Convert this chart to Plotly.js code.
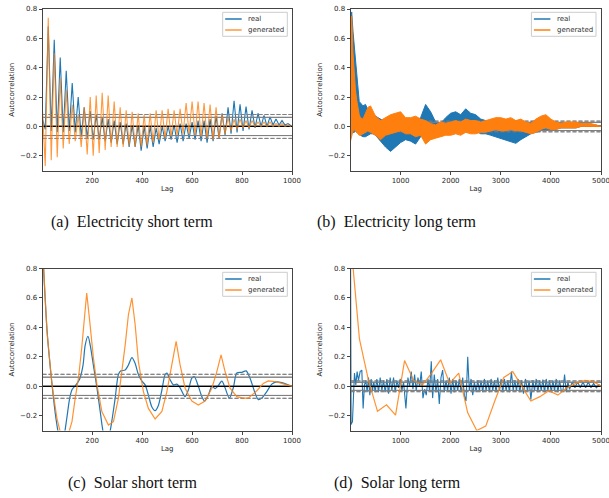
<!DOCTYPE html>
<html><head><meta charset="utf-8">
<script src="https://cdn.plot.ly/plotly-3.0.1.min.js"></script>
<style>html,body{margin:0;padding:0;background:#fff}</style>
</head><body><div id="chart" style="width:609px;height:498px"></div>
<script>
// ---------- (a) Electricity short term: daily (24-lag) oscillation, peaks at lags 24k, troughs at 24k+12 ----------
const periodA = 24;
const realStartA = 0.05;
const realPeaksA = [0.68,0.59,0.47,0.38,0.295,0.20,0.13,0.105,0.08,0.06,0.05,0.04,0.03,0.02,0.01,0.01,0.0,0.0,-0.01,0.0,0.0,0.01,0.02,0.02,0.03,0.04,0.04,0.05,0.07,0.09,0.13,0.175,0.15,0.135,0.11,0.09,0.075,0.065,0.05,0.04,0.02];
const realTroughsA = [-0.02,-0.03,-0.04,-0.04,-0.03,-0.04,-0.07,-0.08,-0.09,-0.09,-0.10,-0.11,-0.12,-0.12,-0.14,-0.14,-0.165,-0.15,-0.14,-0.12,-0.10,-0.09,-0.11,-0.10,-0.08,-0.09,-0.10,-0.11,-0.10,-0.08,-0.06,-0.05,-0.04,-0.03,-0.02,-0.01,0.0,0.0,0.01,0.01,0.01,0.005];
const genStartA = 0.11;
const genPeaksA = [0.74,0.50,0.33,0.25,0.15,0.08,0.13,0.20,0.21,0.23,0.21,0.17,0.13,0.11,0.10,0.09,0.08,0.09,0.11,0.11,0.12,0.11,0.12,0.16,0.17,0.17,0.16,0.15,0.13,0.08,0.06,0.05,0.05,0.04,0.04,0.03,0.03,0.03,0.02,0.02,0.01];
const genTroughsA = [-0.27,-0.23,-0.21,-0.15,-0.12,-0.10,-0.14,-0.19,-0.20,-0.18,-0.16,-0.14,-0.14,-0.14,-0.13,-0.14,-0.14,-0.13,-0.11,-0.09,-0.08,-0.07,-0.06,-0.05,-0.05,-0.06,-0.07,-0.08,-0.09,-0.08,-0.05,-0.03,-0.02,-0.01,-0.01,0.0,0.0,0.0,0.0,0.0,0.0,0.0];

// ---------- (b) Electricity long term: upper / lower envelope of the dense oscillation ----------
const lagsB = [1,25,50,75,100,125,150,175,200,250,300,350,400,450,500,600,700,800,900,1000,1100,1200,1300,1400,1500,1600,1700,1800,1900,2000,2100,2200,2300,2400,2500,2600,2700,2800,2900,3000,3100,3200,3300,3400,3500,3600,3700,3800,3900,4000,4100,4200,4300,4400,4500,4600,4700,4800,4900,5000];
const realHiB = [0.70,0.78,0.65,0.55,0.49,0.38,0.24,0.17,0.16,0.14,0.15,0.11,0.08,0.08,0.07,0.05,0.03,0.02,0.03,0.05,0.03,0.04,0.04,0.06,0.15,0.10,0.03,0.02,0.06,0.09,0.10,0.08,0.12,0.09,0.08,0.05,0.04,0.03,0.03,0.02,0.01,-0.01,-0.02,0.0,0.02,0.03,0.04,0.04,0.04,0.03,0.03,0.02,0.02,0.02,0.02,0.02,0.01,0.01,0.01,0.0];
const realLoB = [-0.02,-0.03,-0.04,-0.04,-0.03,-0.04,-0.04,-0.05,-0.06,-0.07,-0.07,-0.06,-0.05,-0.05,-0.06,-0.10,-0.14,-0.17,-0.14,-0.11,-0.09,-0.10,-0.12,-0.07,-0.03,-0.04,-0.05,-0.06,-0.03,-0.02,-0.02,-0.02,-0.01,-0.02,-0.03,-0.05,-0.05,-0.06,-0.07,-0.08,-0.09,-0.10,-0.115,-0.09,-0.07,-0.05,-0.04,-0.03,-0.02,-0.02,-0.02,-0.01,-0.01,-0.01,-0.01,0.0,0.0,0.0,0.0,0.0];
const genHiB = [0.60,0.75,0.50,0.35,0.25,0.18,0.12,0.08,0.06,0.05,0.09,0.13,0.14,0.10,0.07,0.04,0.06,0.08,0.09,0.10,0.06,0.06,0.07,0.05,0.04,0.02,0.01,0.03,0.02,0.03,0.04,0.03,0.05,0.04,0.04,0.03,0.04,0.05,0.06,0.06,0.05,0.06,0.04,0.05,0.03,0.02,0.05,0.07,0.08,0.05,0.03,0.02,0.03,0.03,0.03,0.02,0.02,0.02,0.01,0.0];
const genLoB = [-0.10,-0.06,-0.03,-0.02,-0.03,-0.04,-0.05,-0.06,-0.06,-0.05,-0.04,-0.03,-0.04,-0.05,-0.06,-0.09,-0.06,-0.05,-0.04,-0.03,-0.05,-0.05,-0.07,-0.06,-0.12,-0.09,-0.08,-0.07,-0.06,-0.06,-0.05,-0.06,-0.04,-0.05,-0.05,-0.04,-0.04,-0.03,-0.02,-0.03,-0.03,-0.02,-0.03,-0.03,-0.04,-0.05,-0.04,-0.02,-0.01,-0.02,-0.02,-0.01,-0.01,-0.01,-0.01,0.0,0.0,0.0,0.0,0.0];

// ---------- (c) Solar short term: [lag, autocorrelation] ----------
const realC = [[1,0.95],[20,0.36],[40,0.0],[55,-0.22],[65,-0.32],[78,-0.38],[88,-0.33],[98,-0.22],[110,-0.08],[120,-0.02],[135,0.01],[150,0.05],[163,0.14],[172,0.28],[183,0.34],[192,0.28],[205,0.14],[219,-0.01],[232,-0.17],[245,-0.32],[258,-0.38],[270,-0.32],[280,-0.22],[292,-0.08],[305,0.08],[315,0.105],[332,0.11],[345,0.145],[359,0.195],[372,0.155],[385,0.08],[399,0.035],[412,0.01],[425,-0.06],[439,-0.14],[452,-0.165],[465,-0.13],[479,-0.025],[492,0.08],[499,0.09],[512,0.045],[525,0.01],[539,0.015],[552,-0.01],[572,-0.07],[585,-0.025],[599,0.055],[609,0.065],[625,0.0],[639,-0.07],[650,-0.1],[665,-0.06],[679,0.0],[692,-0.015],[703,0.0],[719,0.035],[732,-0.01],[749,-0.08],[765,-0.01],[779,0.09],[799,0.095],[816,0.105],[832,0.055],[852,-0.045],[865,-0.09],[879,-0.08],[899,-0.036],[919,0.015],[939,0.03],[959,0.025],[992,0.005],[1000,0.0]];
const genC = [[1,0.95],[19,0.37],[39,0.01],[59,-0.22],[75,-0.33],[90,-0.36],[105,-0.32],[119,-0.24],[132,-0.08],[145,0.055],[158,0.26],[169,0.486],[178,0.634],[189,0.46],[205,0.19],[219,0.01],[239,-0.173],[265,-0.263],[285,-0.24],[305,-0.08],[319,0.1],[332,0.28],[345,0.486],[359,0.6],[372,0.418],[385,0.168],[405,-0.036],[425,-0.15],[452,-0.222],[479,-0.17],[499,-0.036],[519,0.145],[536,0.305],[552,0.145],[572,-0.013],[599,-0.1],[625,-0.127],[652,-0.1],[679,-0.013],[699,0.1],[716,0.214],[732,0.1],[752,-0.013],[779,-0.07],[805,-0.08],[825,-0.08],[859,-0.03],[885,0.02],[905,0.037],[939,0.03],[972,0.015],[1000,0.0]];

// ---------- (d) Solar long term: [lag, autocorrelation] ----------
const realD = [[1,1.0],[13,-0.26],[40,-0.24],[60,-0.04],[80,0.09],[107,0.01],[133,0.10],[160,0.04],[193,0.10],[227,0.11],[253,-0.15],[280,0.01],[307,0.04],[333,-0.04],[360,0.06],[387,-0.06],[413,0.05],[440,-0.03],[467,0.03],[493,-0.04],[527,0.05],[560,-0.04],[593,0.06],[627,-0.03],[660,0.04],[693,-0.04],[727,0.05],[760,-0.05],[793,0.06],[827,-0.03],[860,0.06],[893,-0.04],[927,0.04],[960,-0.01],[993,0.05],[1027,-0.03],[1060,0.03],[1107,-0.15],[1147,0.06],[1180,0.0],[1213,0.10],[1247,-0.02],[1280,0.08],[1313,-0.03],[1347,0.06],[1380,0.0],[1413,0.10],[1447,-0.08],[1480,-0.02],[1513,-0.06],[1547,0.05],[1580,-0.03],[1613,0.17],[1640,-0.08],[1673,0.08],[1707,-0.04],[1740,0.05],[1773,-0.12],[1807,0.06],[1840,0.11],[1873,-0.04],[1907,0.04],[1940,-0.03],[1973,0.06],[2007,-0.05],[2040,0.05],[2073,-0.04],[2107,0.04],[2140,-0.03],[2173,0.05],[2207,-0.04],[2240,0.06],[2273,-0.06],[2307,-0.10],[2340,0.20],[2373,-0.03],[2407,0.05],[2440,-0.06],[2473,0.03],[2507,-0.04],[2540,0.04],[2573,-0.03],[2607,0.04],[2640,-0.04],[2673,0.05],[2707,-0.03],[2740,0.04],[2773,-0.04],[2807,0.05],[2840,-0.03],[2873,0.04],[2907,-0.04],[2940,0.06],[2973,-0.03],[3007,0.05],[3040,-0.04],[3073,0.05],[3107,-0.03],[3140,0.04],[3173,-0.04],[3213,0.10],[3247,-0.03],[3280,0.04],[3313,-0.03],[3347,0.05],[3380,-0.04],[3413,0.04],[3453,-0.05],[3493,0.05],[3533,-0.03],[3567,0.04],[3600,-0.09],[3640,0.04],[3673,-0.03],[3707,0.05],[3740,-0.04],[3773,0.04],[3807,-0.03],[3840,0.045],[3873,-0.04],[3907,0.05],[3940,-0.03],[3973,0.04],[4007,-0.04],[4040,0.04],[4073,-0.03],[4107,0.05],[4140,-0.04],[4173,0.04],[4207,-0.03],[4240,-0.03],[4273,0.08],[4307,-0.04],[4340,0.03],[4373,-0.02],[4427,0.03],[4480,-0.01],[4533,0.03],[4587,-0.01],[4640,0.03],[4693,-0.01],[4747,0.03],[4800,-0.01],[4853,0.02],[4907,-0.01],[4960,0.01],[5000,0.0]];
const genD = [[1,1.0],[90,0.64],[180,0.32],[360,0.04],[540,-0.17],[720,-0.125],[900,-0.195],[1080,0.175],[1260,0.04],[1440,0.01],[1620,0.09],[1800,0.18],[1980,0.02],[2160,0.09],[2340,-0.18],[2520,-0.30],[2700,-0.27],[2880,-0.10],[3060,0.06],[3240,0.10],[3420,0.0],[3600,-0.10],[3780,-0.07],[3960,-0.03],[4140,-0.06],[4320,-0.01],[4500,0.02],[4680,0.04],[4860,0.03],[5000,0.0]];

// series lengths used for the confidence bands (pandas autocorrelation_plot)
const nShort = 1000, nLong = 5000;
const seriesNames = ['real', 'generated'];
const captions = ['(a)\u00a0\u00a0Electricity short term', '(b)\u00a0\u00a0Electricity long term', '(c)\u00a0\u00a0Solar short term', '(d)\u00a0\u00a0Solar long term'];
const yTicks = [-0.2, 0.0, 0.2, 0.4, 0.6, 0.8];
const xTicksShort = [200, 400, 600, 800, 1000];
const xTicksLong = [1000, 2000, 3000, 4000, 5000];

// ---------- helpers ----------
const BLUE = '#1f77b4', ORANGE = '#ff7f0e';
function zig(start, troughs, peaks, period) {
  const x = [1], y = [start];
  for (let i = 0; i < troughs.length; i++) {
    x.push(period * i + period / 2); y.push(troughs[i]);
    if (i < peaks.length) { x.push(period * (i + 1)); y.push(peaks[i]); }
  }
  return {x, y};
}
function unpack(p) { return {x: p.map(d => d[0]), y: p.map(d => d[1])}; }
function bands(n, xmax, xa, ya) {
  const z95 = 1.959963984540054, z99 = 2.5758293035489004;
  const s = Math.sqrt(n);
  const defs = [[z99 / s, '4px,2px', '#808080', 1], [z95 / s, 'solid', '#808080', 1], [0, 'solid', '#000', 1.3],
                [-z95 / s, 'solid', '#808080', 1], [-z99 / s, '4px,2px', '#808080', 1]];
  return defs.map(d => ({type: 'scatter', mode: 'lines', x: [1, xmax], y: [d[0], d[0]], xaxis: xa, yaxis: ya,
    line: {color: d[2], width: d[3], dash: d[1]}, showlegend: false, hoverinfo: 'skip'}));
}

const traces = [];
// (a)
const ra = zig(realStartA, realTroughsA, realPeaksA, periodA);
const ga = zig(genStartA, genTroughsA, genPeaksA, periodA);
traces.push(...bands(nShort, nShort, 'x', 'y'));
traces.push({type: 'scatter', mode: 'lines', x: ra.x, y: ra.y, xaxis: 'x', yaxis: 'y', name: seriesNames[0], line: {color: BLUE, width: 1.1}});
traces.push(...bands(nShort, nShort, 'x', 'y'));
traces.push({type: 'scatter', mode: 'lines', x: ga.x, y: ga.y, xaxis: 'x', yaxis: 'y', name: seriesNames[1], opacity: 0.8, line: {color: ORANGE, width: 1.1}});
// (b)
traces.push(...bands(nLong, nLong, 'x2', 'y2'));
traces.push({type: 'scatter', mode: 'lines', x: lagsB, y: realLoB, xaxis: 'x2', yaxis: 'y2', name: seriesNames[0], line: {color: BLUE, width: 1}});
traces.push({type: 'scatter', mode: 'lines', x: lagsB, y: realHiB, xaxis: 'x2', yaxis: 'y2', fill: 'tonexty', fillcolor: BLUE, line: {color: BLUE, width: 1}});
traces.push(...bands(nLong, nLong, 'x2', 'y2'));
traces.push({type: 'scatter', mode: 'lines', x: lagsB, y: genLoB, xaxis: 'x2', yaxis: 'y2', name: seriesNames[1], line: {color: ORANGE, width: 1}});
traces.push({type: 'scatter', mode: 'lines', x: lagsB, y: genHiB, xaxis: 'x2', yaxis: 'y2', fill: 'tonexty', fillcolor: ORANGE, line: {color: ORANGE, width: 1}});
// (c)
const rc = unpack(realC), gc = unpack(genC);
traces.push(...bands(nShort, nShort, 'x3', 'y3'));
traces.push({type: 'scatter', mode: 'lines', x: rc.x, y: rc.y, xaxis: 'x3', yaxis: 'y3', name: seriesNames[0], line: {color: BLUE, width: 1.2, shape: 'spline', smoothing: 0.8}});
traces.push(...bands(nShort, nShort, 'x3', 'y3'));
traces.push({type: 'scatter', mode: 'lines', x: gc.x, y: gc.y, xaxis: 'x3', yaxis: 'y3', name: seriesNames[1], opacity: 0.85, line: {color: ORANGE, width: 1.2}});
// (d)
const rd = unpack(realD), gd = unpack(genD);
traces.push(...bands(nLong, nLong, 'x4', 'y4'));
traces.push({type: 'scatter', mode: 'lines', x: rd.x, y: rd.y, xaxis: 'x4', yaxis: 'y4', name: seriesNames[0], line: {color: BLUE, width: 1.1}});
traces.push(...bands(nLong, nLong, 'x4', 'y4'));
traces.push({type: 'scatter', mode: 'lines', x: gd.x, y: gd.y, xaxis: 'x4', yaxis: 'y4', name: seriesNames[1], opacity: 0.85, line: {color: ORANGE, width: 1.2}});

// ---------- layout ----------
const W = 609, H = 498;
const px = v => v / W, py = v => 1 - v / H;
const axisBase = {showline: true, mirror: true, linecolor: '#444', linewidth: 1, ticks: 'outside', ticklen: 3, tickwidth: 1,
  tickcolor: '#444', showgrid: false, zeroline: false, ticklabeloverflow: 'allow',
  tickfont: {family: 'DejaVu Sans', size: 7, color: '#262626'}, fixedrange: true};
function xa(domain, maxLag, ticks, anchor) {
  return Object.assign({}, axisBase, {domain, range: [1, maxLag], tickvals: ticks, anchor,
    title: {text: 'Lag', font: {family: 'DejaVu Sans', size: 7, color: '#262626'}, standoff: 2}});
}
function ya(domain, anchor) {
  return Object.assign({}, axisBase, {domain, range: [-0.3, 0.8], tickvals: yTicks, tickformat: '.1f', anchor,
    title: {text: 'Autocorrelation', font: {family: 'DejaVu Sans', size: 7, color: '#262626'}, standoff: 4}});
}
const colL = [px(42.5), px(292)], colR = [px(350.5), px(601)];
const rowT = [py(170.5), py(9)], rowB = [py(430.5), py(268.5)];

// legend boxes drawn like matplotlib's compact legend (right edge, top edge in pixels)
const shapes = [], annotations = [];
function legendBox(xr, yt, genOpacity) {
  const x0 = xr - 64.6, y1 = yt + 24;
  shapes.push({type: 'rect', xref: 'paper', yref: 'paper', x0: px(x0), x1: px(xr), y0: py(y1), y1: py(yt),
    fillcolor: 'rgba(255,255,255,0.85)', line: {color: '#cccccc', width: 1}, layer: 'above'});
  const rows = [[seriesNames[0], BLUE, 1], [seriesNames[1], ORANGE, genOpacity]];
  rows.forEach((r, i) => {
    const yy = yt + 6.7 + i * 11;
    shapes.push({type: 'line', xref: 'paper', yref: 'paper', x0: px(x0 + 2.5), x1: px(x0 + 19), y0: py(yy), y1: py(yy),
      line: {color: r[1], width: 1.5}, opacity: r[2], layer: 'above'});
    annotations.push({text: r[0], xref: 'paper', yref: 'paper', x: px(x0 + 23.5), y: py(yy), xanchor: 'left', yanchor: 'middle',
      showarrow: false, font: {family: 'DejaVu Sans', size: 7, color: '#333'}});
  });
}
legendBox(287.3, 12.3, 0.8);
legendBox(596, 12.3, 1);
legendBox(287.3, 272.3, 0.85);
legendBox(596, 272.3, 0.85);

const capFont = {family: 'Liberation Serif', size: 16, color: '#111'};
[[131.5, 222], [396.7, 222], [132.5, 483], [397.5, 483]].forEach((p, i) => {
  annotations.push({text: captions[i], x: px(p[0]), y: py(p[1]), xref: 'paper', yref: 'paper', xanchor: 'center', yanchor: 'middle',
    showarrow: false, font: capFont});
});

const layout = {
  width: W, height: H, margin: {l: 0, r: 0, t: 0, b: 0}, paper_bgcolor: '#fff', plot_bgcolor: '#fff', showlegend: false,
  font: {family: 'DejaVu Sans', size: 7, color: '#333'},
  xaxis: xa(colL, nShort, xTicksShort, 'y'), yaxis: ya(rowT, 'x'),
  xaxis2: xa(colR, nLong, xTicksLong, 'y2'), yaxis2: ya(rowT, 'x2'),
  xaxis3: xa(colL, nShort, xTicksShort, 'y3'), yaxis3: ya(rowB, 'x3'),
  xaxis4: xa(colR, nLong, xTicksLong, 'y4'), yaxis4: ya(rowB, 'x4'),
  shapes, annotations
};
Plotly.newPlot('chart', traces, layout, {staticPlot: true, displayModeBar: false});
</script></body></html>
